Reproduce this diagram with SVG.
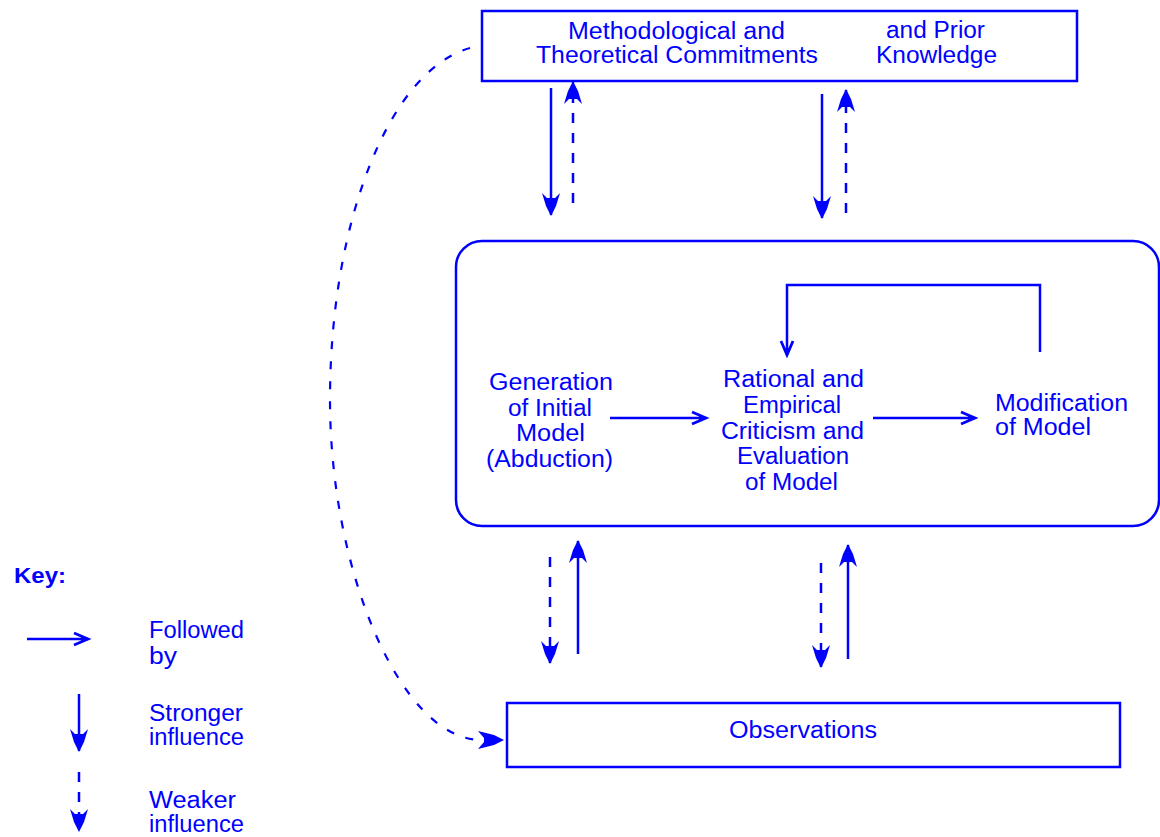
<svg xmlns="http://www.w3.org/2000/svg" width="1160" height="837" viewBox="0 0 1160 837">
  <style>
    .box { fill: none; stroke: #0000ff; stroke-width: 2.5; }
    .ln { fill: none; stroke: #0000ff; stroke-width: 2.5; }
    .dash { stroke-dasharray: 10 10; }
    .curve { fill: none; stroke: #0000ff; stroke-width: 2.2; stroke-dasharray: 8 12; }
    .t { font-family: "Liberation Sans", Arial, sans-serif; font-size: 23px; fill: #0000ff; }
    .key { font-family: "Liberation Sans", Arial, sans-serif; font-size: 22px; font-weight: bold; fill: #0000ff; }
  </style>
  <defs>
    <!-- filled barbed head: stronger / weaker influence -->
    <marker id="head" markerUnits="userSpaceOnUse" markerWidth="30" markerHeight="26" viewBox="-26 -13 30 26" refX="0" refY="0" orient="auto">
      <path d="M1,0 L-9,-5 L-22,-9 L-17,-4 L-17,4 L-22,9 L-9,5 Z" fill="#0000ff"/>
    </marker>
    <!-- open chevron head: "followed by" -->
    <marker id="chev" markerUnits="userSpaceOnUse" markerWidth="24" markerHeight="20" viewBox="-20 -10 24 20" refX="0" refY="0" orient="auto">
      <path d="M-14,-6 L0,0 L-14,6 M-7,0 L0,0" fill="none" stroke="#0000ff" stroke-width="2.8"/>
    </marker>
  </defs>

  <!-- nodes -->
  <g id="commitments">
    <rect class="box" x="482" y="11" width="595" height="70"/>
    <text class="t" x="568" y="39" textLength="217" lengthAdjust="spacingAndGlyphs">Methodological and</text>
    <text class="t" x="536" y="63" textLength="282" lengthAdjust="spacingAndGlyphs">Theoretical Commitments</text>
    <text class="t" x="886" y="38" textLength="99" lengthAdjust="spacingAndGlyphs">and Prior</text>
    <text class="t" x="876" y="63" textLength="121" lengthAdjust="spacingAndGlyphs">Knowledge</text>
  </g>

  <g id="modelling">
    <rect class="box" x="456" y="241" width="703" height="285" rx="26" ry="26"/>
  </g>

  <g id="generation">
    <text class="t" x="489" y="390" textLength="124" lengthAdjust="spacingAndGlyphs">Generation</text>
    <text class="t" x="508" y="416" textLength="84" lengthAdjust="spacingAndGlyphs">of Initial</text>
    <text class="t" x="516" y="441" textLength="69" lengthAdjust="spacingAndGlyphs">Model</text>
    <text class="t" x="486" y="467" textLength="127" lengthAdjust="spacingAndGlyphs">(Abduction)</text>
  </g>

  <g id="criticism">
    <text class="t" x="723" y="387" textLength="141" lengthAdjust="spacingAndGlyphs">Rational and</text>
    <text class="t" x="743" y="413" textLength="98" lengthAdjust="spacingAndGlyphs">Empirical</text>
    <text class="t" x="721" y="439" textLength="143" lengthAdjust="spacingAndGlyphs">Criticism and</text>
    <text class="t" x="737" y="464" textLength="112" lengthAdjust="spacingAndGlyphs">Evaluation</text>
    <text class="t" x="745" y="490" textLength="93" lengthAdjust="spacingAndGlyphs">of Model</text>
  </g>

  <g id="modification">
    <text class="t" x="995" y="411" textLength="133" lengthAdjust="spacingAndGlyphs">Modification</text>
    <text class="t" x="995" y="435" textLength="96" lengthAdjust="spacingAndGlyphs">of Model</text>
  </g>

  <g id="observations">
    <rect class="box" x="507" y="703" width="613" height="64"/>
    <text class="t" x="729" y="738" textLength="148" lengthAdjust="spacingAndGlyphs">Observations</text>
  </g>

  <!-- connectors -->
  <g id="connectors">
    <!-- commitments <-> modelling -->
    <line class="ln" x1="551" y1="88" x2="551" y2="215" marker-end="url(#head)"/>
    <line class="ln dash" x1="573" y1="203" x2="573" y2="82" marker-end="url(#head)"/>
    <line class="ln" x1="822" y1="94" x2="822" y2="218" marker-end="url(#head)"/>
    <line class="ln dash" x1="846" y1="213" x2="846" y2="90" marker-end="url(#head)"/>

    <!-- modelling <-> observations -->
    <line class="ln dash" x1="550" y1="557" x2="550" y2="663" marker-end="url(#head)"/>
    <line class="ln" x1="578" y1="654" x2="578" y2="541" marker-end="url(#head)"/>
    <line class="ln dash" x1="821" y1="563" x2="821" y2="667" marker-end="url(#head)"/>
    <line class="ln" x1="848" y1="659" x2="848" y2="545" marker-end="url(#head)"/>

    <!-- sequence inside the modelling cycle -->
    <line class="ln" x1="610" y1="418" x2="706" y2="418" marker-end="url(#chev)"/>
    <line class="ln" x1="873" y1="418" x2="975" y2="418" marker-end="url(#chev)"/>
    <polyline class="ln" points="1040,352 1040,285 787,285 787,355" marker-end="url(#chev)"/>

    <!-- commitments -> observations -->
    <path class="curve" d="M470,48 C390,70 330,220 330,400 C330,570 400,738 480,740"/>
    <path d="M504,740 L494,735 L478,731 L484,738 L484,742 L478,749 L494,745 Z" fill="#0000ff"/>
  </g>

  <!-- key -->
  <g id="key">
    <text class="key" x="14" y="583" textLength="52" lengthAdjust="spacingAndGlyphs">Key:</text>
    <line class="ln" x1="27" y1="639" x2="88" y2="639" marker-end="url(#chev)"/>
    <text class="t" x="149" y="638" textLength="95" lengthAdjust="spacingAndGlyphs">Followed</text>
    <text class="t" x="149" y="664" textLength="28" lengthAdjust="spacingAndGlyphs">by</text>
    <line class="ln" x1="79" y1="694" x2="79" y2="751" marker-end="url(#head)"/>
    <text class="t" x="149" y="721" textLength="94" lengthAdjust="spacingAndGlyphs">Stronger</text>
    <text class="t" x="149" y="745" textLength="95" lengthAdjust="spacingAndGlyphs">influence</text>
    <line class="ln dash" x1="79" y1="772" x2="79" y2="831" marker-end="url(#head)"/>
    <text class="t" x="149" y="808" textLength="87" lengthAdjust="spacingAndGlyphs">Weaker</text>
    <text class="t" x="149" y="832" textLength="95" lengthAdjust="spacingAndGlyphs">influence</text>
  </g>
</svg>
